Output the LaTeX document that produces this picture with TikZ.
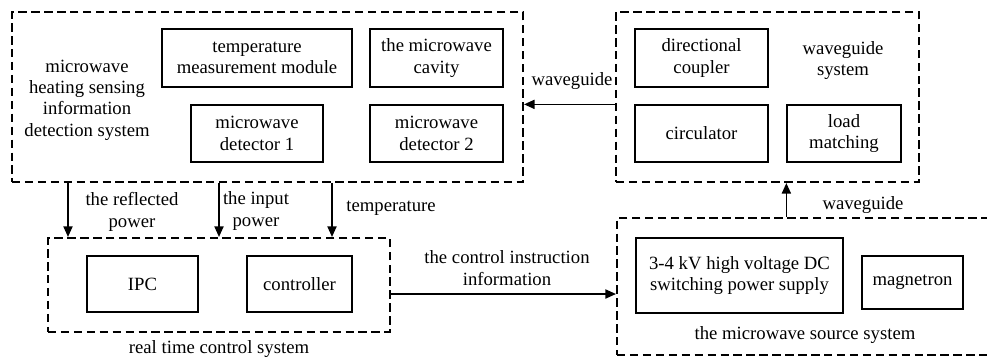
\documentclass[tikz,border=0pt]{standalone}
\usepackage{fontspec}
\setmainfont{Liberation Serif}
\usetikzlibrary{arrows.meta}
\tikzset{
  unit/.style={draw, line width=0.9pt, align=center, inner sep=0pt},
  sysbox/.style={draw, line width=1.5pt, dash pattern=on 6pt off 3.2pt, inner sep=0pt},
  lbl/.style={align=center, inner sep=0pt},
  arr/.style={line width=1pt, -{Triangle[length=7.5pt,width=6.5pt]}}
}
\begin{document}
\begin{tikzpicture}[x=0.025cm, y=-0.025cm, font=\fontsize{13.3}{15.2}\selectfont]
      \useasboundingbox (0,0) rectangle (987,358);
      \node[sysbox, minimum width=511*0.025cm, minimum height=170*0.025cm] (sens) at (267.5,97) {};
      \node[sysbox, minimum width=303*0.025cm, minimum height=170*0.025cm] (wgsys) at (767.5,97) {};
      \node[sysbox, minimum width=342*0.025cm, minimum height=94*0.025cm] (ctrl) at (219,285) {};
      \node[sysbox, minimum width=383*0.025cm, minimum height=137*0.025cm] (src) at (808.5,286.5) {};
      \draw
        (257,58) node[unit, minimum width=190*0.025cm, minimum height=58*0.025cm] (tmm){temperature\\measurement module}
        (436.5,58) node[unit, minimum width=133*0.025cm, minimum height=58*0.025cm] (cav){the microwave\\cavity}
        (257,133.5) node[unit, minimum width=132*0.025cm, minimum height=57*0.025cm] (det1){microwave\\detector 1}
        (436.5,133.5) node[unit, minimum width=133*0.025cm, minimum height=57*0.025cm] (det2){microwave\\detector 2}
        (701.5,58) node[unit, minimum width=133*0.025cm, minimum height=58*0.025cm] (coup){directional\\coupler}
        (701.5,133.5) node[unit, minimum width=133*0.025cm, minimum height=57*0.025cm] (circ){circulator}
        (844,133.5) node[unit, minimum width=114*0.025cm, minimum height=57*0.025cm] (load){load\\matching}
        (142.5,284) node[unit, minimum width=111*0.025cm, minimum height=56*0.025cm] (ipc){IPC}
        (299.5,284) node[unit, minimum width=105*0.025cm, minimum height=56*0.025cm] (contr){controller}
        (739.5,275.5) node[unit, minimum width=207*0.025cm, minimum height=75*0.025cm] (hv){3-4 kV high voltage DC\\switching power supply}
        (912.5,282.5) node[unit, minimum width=101*0.025cm, minimum height=53*0.025cm] (mag){magnetron};
      \node[lbl] (senslbl) at (87,100) {microwave\\heating sensing\\information\\detection system};
      \node[lbl] (wglbl) at (843,60.5) {waveguide\\system};
      \node[lbl] (ctrllbl) at (219,349) {real time control system};
      \node[lbl] (srclbl) at (805,335) {the microwave source system};
      \node[lbl] (wg1) at (572,81) {waveguide};
      \node[lbl] (wg2) at (863,205) {waveguide};
      \node[lbl] (refl) at (132,212) {the reflected\\power};
      \node[lbl] (inp) at (256,211) {the input\\power};
      \node[lbl] (temp) at (391,208) {temperature};
      \node[lbl] (instr) at (507,268) {the control instruction\\information};
      \coordinate (tapA) at (68,0);
      \coordinate (tapB) at (219,0);
      \coordinate (tapC) at (332,0);
      \coordinate (tapD) at (0,294);
      \begin{scope}[arr]
        \draw (wgsys.west |- circ.north) to (sens.east |- circ.north);
        \draw (sens.south -| tapA) to (ctrl.north -| tapA);
        \draw (sens.south -| tapB) to (ctrl.north -| tapB);
        \draw (sens.south -| tapC) to (ctrl.north -| tapC);
        \draw (ctrl.east |- tapD) to (src.west |- tapD);
        \draw (src.north -| load.west) to (wgsys.south -| load.west);
      \end{scope}
    \end{tikzpicture}
\end{document}
